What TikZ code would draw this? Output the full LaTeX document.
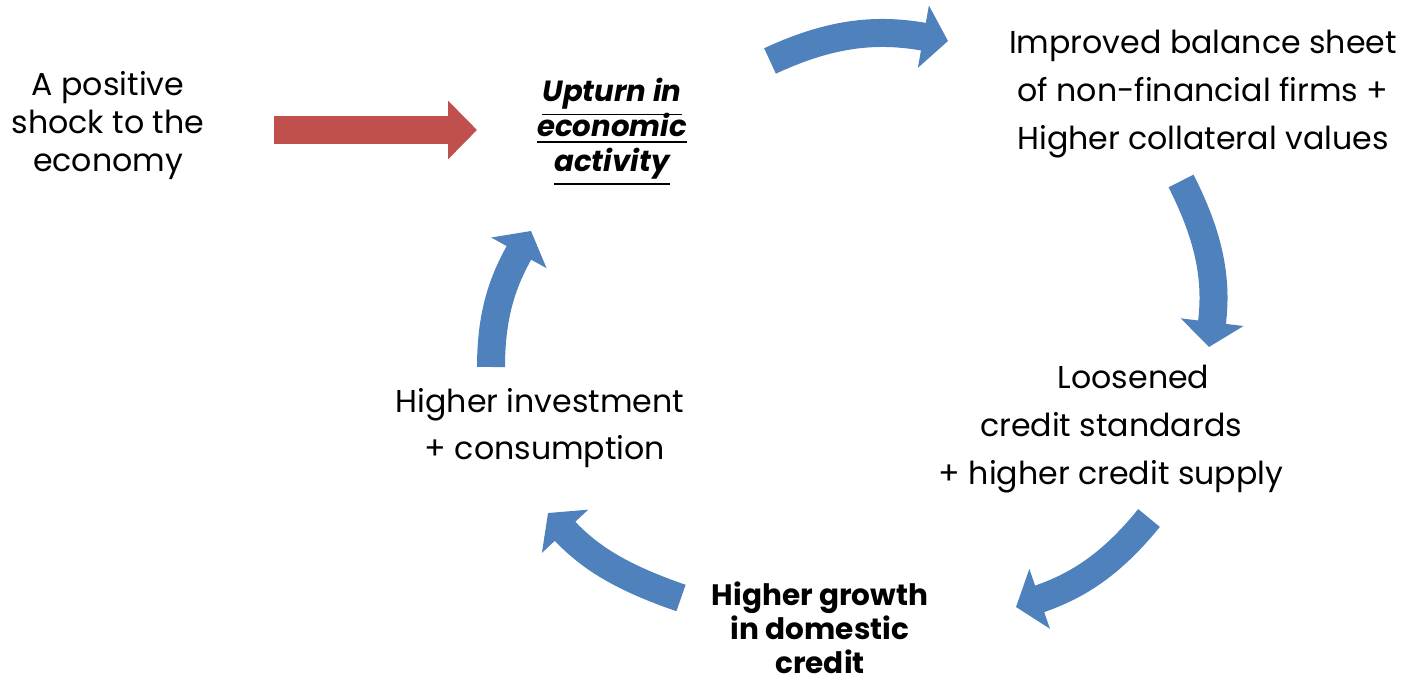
\documentclass[tikz,border=0pt]{standalone}
\usepackage{fontspec}
\setmainfont{Poppins}
\usepackage{tikz}
\usetikzlibrary{arrows.meta,positioning}
\definecolor{cycleblue}{RGB}{79, 129, 189}
\definecolor{shockred}{RGB}{192, 80, 77}
% underline that keeps the line spacing
\newcommand{\flatline}[1]{\setbox0\hbox{\underline{#1}}\dp0=0pt\box0}

\begin{document}
\begin{tikzpicture}[
    every node/.style={align=center, inner sep=0pt},
    label/.style={font=\fontsize{9}{13.6}\selectfont},
    keylabel/.style={font=\fontsize{8.4}{9.7}\selectfont\bfseries},
    cyclearrow/.style={draw=cycleblue, line width=0.28cm, -{Triangle[length=0.25cm, width=0.62cm]}},
    shockarrow/.style={draw=shockred, line width=0.28cm, -{Triangle[length=0.29cm, width=0.57cm]}}
]
\useasboundingbox (0,0) rectangle (14.01,6.79);

% Text blocks
\node[font=\fontsize{9}{10.8}\selectfont] (shock) at (1.08,5.53) {A positive\\shock to the\\economy};
\node[font=\fontsize{8.3}{9.9}\selectfont\bfseries\itshape] (upturn) at (6.12,5.54)
    {\flatline{Upturn in}\\\flatline{economic}\\\flatline{activity}};
\node[label] (balance) at (12.03,5.85) {Improved balance sheet\\of non-financial firms +\\Higher collateral values};
\node[label] (standards) at (11.11,2.50) {\hspace*{0.45cm}Loosened\\credit standards\\+ higher credit supply};
\node[keylabel] (credit) at (8.20,0.51) {Higher growth\\in domestic\\credit};
\node[label] (invest) at (5.40,2.51) {Higher investment\\\hspace*{0.1cm}+ consumption};

% Arrow ends
\coordinate (shock-out) at (2.74,5.49);
\coordinate (shock-in) at (4.77,5.49);
\coordinate (upturn-out) at (7.70,6.18);
\coordinate (balance-in) at (9.48,6.38);
\coordinate (balance-out) at (11.81,4.98);
\coordinate (standards-in) at (12.09,3.32);
\coordinate (standards-out) at (11.49,1.61);
\coordinate (credit-in) at (10.16,0.72);
\coordinate (credit-out) at (6.81,0.81);
\coordinate (invest-in) at (5.48,1.66);
\coordinate (invest-out) at (4.91,3.12);
\coordinate (upturn-in) at (5.31,4.48);

% Connections
\draw[shockarrow] (shock-out) -- (shock-in);
\draw[cyclearrow] (upturn-out) to[out=25, in=170] (balance-in);
\draw[cyclearrow] (balance-out) to[out=-63, in=83] (standards-in);
\draw[cyclearrow] (standards-out) to[out=231, in=19] (credit-in);
\draw[cyclearrow] (credit-out) to[out=161, in=-47] (invest-in);
\draw[cyclearrow] (invest-out) to[out=90, in=241] (upturn-in);

\end{tikzpicture}
\end{document}
